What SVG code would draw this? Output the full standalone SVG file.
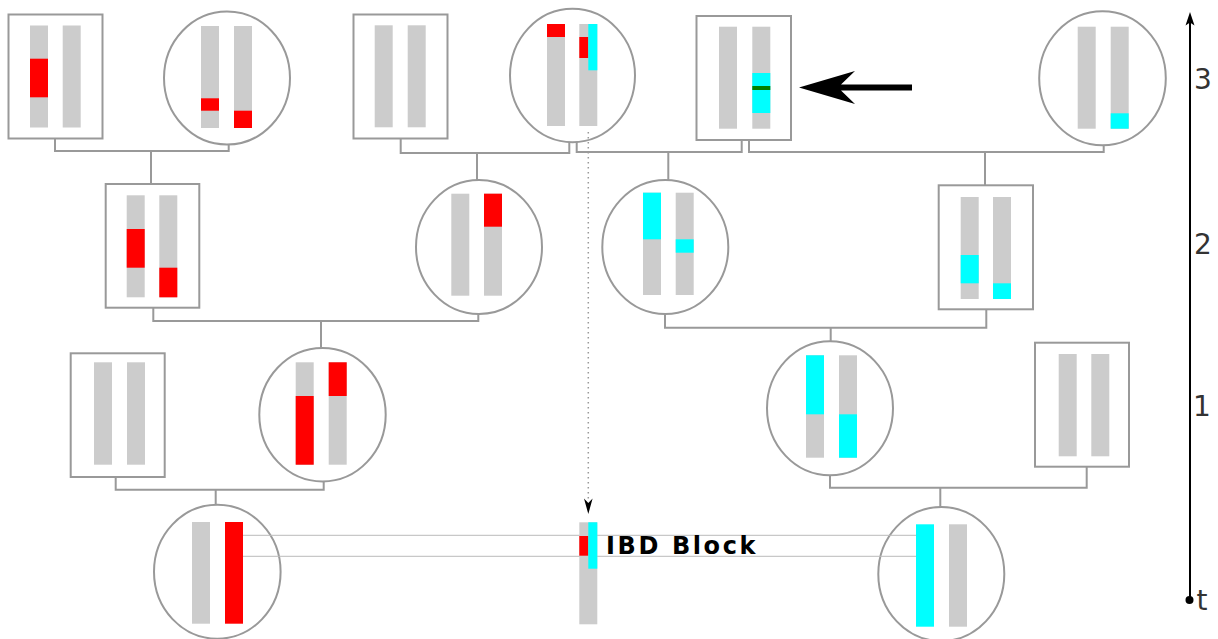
<svg xmlns="http://www.w3.org/2000/svg" width="1218" height="639" viewBox="0 0 1218 639">
<style>
.box{fill:#fff;stroke:#999;stroke-width:2}
.bar{fill:#ccc}
.r{fill:#f00}
.c{fill:#0ff}
.con{fill:none;stroke:#999;stroke-width:2}
.ibd{fill:none;stroke:#bbb;stroke-width:1}
.ax{font-family:"DejaVu Sans",sans-serif;font-size:28px;fill:#333}
</style>
<rect width="1218" height="639" fill="#fff"/>
<g id="nodeA">
<rect class="box" x="8.5" y="14.5" width="94" height="124"/>
<rect class="bar" x="30" y="25.5" width="18" height="102"/>
<rect class="r" x="30" y="58.7" width="18" height="38.6"/>
<rect class="bar" x="62.7" y="25.5" width="18" height="102"/>
</g>
<g id="nodeB">
<ellipse class="box" cx="227" cy="78" rx="63" ry="66.5"/>
<rect class="bar" x="201" y="26" width="18" height="102"/>
<rect class="r" x="201" y="98.3" width="18" height="12.4"/>
<rect class="bar" x="234" y="26" width="18" height="102"/>
<rect class="r" x="234" y="110.7" width="18" height="17.3"/>
</g>
<g id="nodeC">
<rect class="box" x="353.5" y="14.5" width="94" height="124"/>
<rect class="bar" x="374.7" y="25.3" width="18" height="102"/>
<rect class="bar" x="407.7" y="25.3" width="18" height="102"/>
</g>
<g id="nodeD">
<ellipse class="box" cx="572.5" cy="75.5" rx="62.5" ry="66.7"/>
<rect class="bar" x="547" y="24" width="18" height="102"/>
<rect class="r" x="547" y="24" width="18" height="13"/>
<rect class="bar" x="579.3" y="24" width="18" height="102"/>
<rect class="r" x="579.3" y="37" width="9" height="21"/>
<rect class="c" x="588.3" y="24" width="9" height="46.3"/>
</g>
<g id="nodeE">
<rect class="box" x="696.5" y="16" width="94.5" height="124"/>
<rect class="bar" x="719" y="26.7" width="18" height="102"/>
<rect class="bar" x="752.3" y="26.7" width="18" height="102"/>
<rect class="c" x="752.3" y="73" width="18" height="40"/>
<rect x="752.3" y="86" width="18" height="4" fill="#008000"/>
</g>
<g id="pointer">
<path d="M799,87.5 L855,71 L841,84.5 L912,84.5 L912,90.5 L841,90.5 L855,104 Z" fill="#000"/>
</g>
<g id="nodeF">
<ellipse class="box" cx="1102.5" cy="78.3" rx="63.3" ry="67"/>
<rect class="bar" x="1077.7" y="26.7" width="18" height="102"/>
<rect class="bar" x="1110.7" y="26.7" width="18" height="102"/>
<rect class="c" x="1110.7" y="113.3" width="18" height="15.4"/>
</g>
<g id="nodeI">
<rect class="box" x="105.7" y="184" width="93.6" height="123.7"/>
<rect class="bar" x="126.7" y="195.3" width="18" height="102"/>
<rect class="r" x="126.7" y="229" width="18" height="38.7"/>
<rect class="bar" x="159.3" y="195.3" width="18" height="102"/>
<rect class="r" x="159.3" y="267.7" width="18" height="29.6"/>
</g>
<g id="nodeJ">
<ellipse class="box" cx="479" cy="247" rx="63" ry="67"/>
<rect class="bar" x="451.3" y="193.7" width="18" height="102"/>
<rect class="bar" x="484" y="193.7" width="18" height="102"/>
<rect class="r" x="484" y="193.7" width="18" height="33"/>
</g>
<g id="nodeG">
<ellipse class="box" cx="665.3" cy="247" rx="63" ry="67"/>
<rect class="bar" x="643" y="192.7" width="18" height="102.3"/>
<rect class="c" x="643" y="192.7" width="18" height="46.6"/>
<rect class="bar" x="675.7" y="192.7" width="18" height="102.3"/>
<rect class="c" x="675.7" y="239.3" width="18" height="13.4"/>
</g>
<g id="nodeH">
<rect class="box" x="938.7" y="185.3" width="94.3" height="124"/>
<rect class="bar" x="960.7" y="197" width="18" height="102"/>
<rect class="c" x="960.7" y="255" width="18" height="28.3"/>
<rect class="bar" x="993" y="197" width="18" height="102"/>
<rect class="c" x="993" y="283.3" width="18" height="15.7"/>
</g>
<g id="nodeK">
<rect class="box" x="70.7" y="353.3" width="94" height="123.7"/>
<rect class="bar" x="94" y="362.3" width="18" height="102.4"/>
<rect class="bar" x="127" y="362.3" width="18" height="102.4"/>
</g>
<g id="nodeL">
<ellipse class="box" cx="322.5" cy="414.7" rx="63.2" ry="66.7"/>
<rect class="bar" x="295.7" y="362.3" width="18" height="102.4"/>
<rect class="r" x="295.7" y="396" width="18" height="68.7"/>
<rect class="bar" x="328.7" y="362.3" width="18" height="102.4"/>
<rect class="r" x="328.7" y="362.3" width="18" height="33.7"/>
</g>
<g id="nodeM">
<ellipse class="box" cx="830" cy="408.3" rx="63" ry="67"/>
<rect class="bar" x="806" y="355.3" width="18" height="102.4"/>
<rect class="c" x="806" y="355.3" width="18" height="59"/>
<rect class="bar" x="839" y="355.3" width="18" height="102.4"/>
<rect class="c" x="839" y="414.3" width="18" height="43.4"/>
</g>
<g id="nodeN">
<rect class="box" x="1035" y="342.7" width="94" height="124"/>
<rect class="bar" x="1058.7" y="354" width="18" height="102.3"/>
<rect class="bar" x="1091.3" y="354" width="18" height="102.3"/>
</g>
<g id="nodeO">
<ellipse class="box" cx="217.3" cy="571.7" rx="63.3" ry="67"/>
<rect class="bar" x="192" y="522" width="18" height="101.7"/>
<rect class="r" x="225" y="522" width="18" height="101.7"/>
</g>
<g id="nodeP">
<ellipse class="box" cx="941.3" cy="574" rx="63" ry="67"/>
<rect class="c" x="916" y="524.3" width="18" height="102.4"/>
<rect class="bar" x="949" y="524.3" width="18" height="102.4"/>
</g>
<g id="connectors">
<path class="con" d="M55,138.5 V151 H228.7 V144.3 M151,151 V184"/>
<path class="con" d="M400.7,138.5 V153 H569.3 V142 M477,153 V180"/>
<path class="con" d="M576.7,141.5 V152 H741.7 V140 M668.3,152 V180"/>
<path class="con" d="M749,140 V152 H1103.7 V145 M985,152 V185.3"/>
<path class="con" d="M153.3,307.7 V321 H478.3 V314 M321,321 V348"/>
<path class="con" d="M665,314 V327.7 H986.3 V309.3 M830.7,327.7 V341.3"/>
<path class="con" d="M115.7,477 V489.7 H323.7 V481.3 M215.7,489.7 V504.7"/>
<path class="con" d="M830,475.3 V487.7 H1086.7 V466.7 M940.3,487.7 V507.3"/>
<path class="ibd" d="M243,535.3 H916 M243,556.3 H916"/>
<path d="M588.3,132 V502" fill="none" stroke="#999" stroke-width="1.5" stroke-dasharray="1.5,3.5"/>
<path d="M588.3,514 L584,498.5 L588.3,503 L592.6,498.5 Z" fill="#000"/>
</g>
<g id="nodeIBD">
<rect class="bar" x="579.3" y="522.3" width="18" height="102"/>
<rect class="r" x="579.3" y="536" width="9" height="19.7"/>
<rect class="c" x="588.3" y="522.3" width="9" height="46.4"/>
<text x="606" y="554" font-family="'DejaVu Sans',sans-serif" font-weight="bold" font-size="24" letter-spacing="2.6" fill="#000">IBD Block</text>
</g>
<g id="axis">
<path d="M1190,22 V600" stroke="#000" stroke-width="2" fill="none"/>
<path d="M1190,12 L1185.5,25.5 L1190,22.5 L1194.5,25.5 Z" fill="#000"/>
<circle cx="1189.5" cy="600" r="4" fill="#000"/>
<text class="ax" x="1194" y="89">3</text>
<text class="ax" x="1194" y="254">2</text>
<text class="ax" x="1193" y="416">1</text>
<text class="ax" x="1196.5" y="610">t</text>
</g>
</svg>
